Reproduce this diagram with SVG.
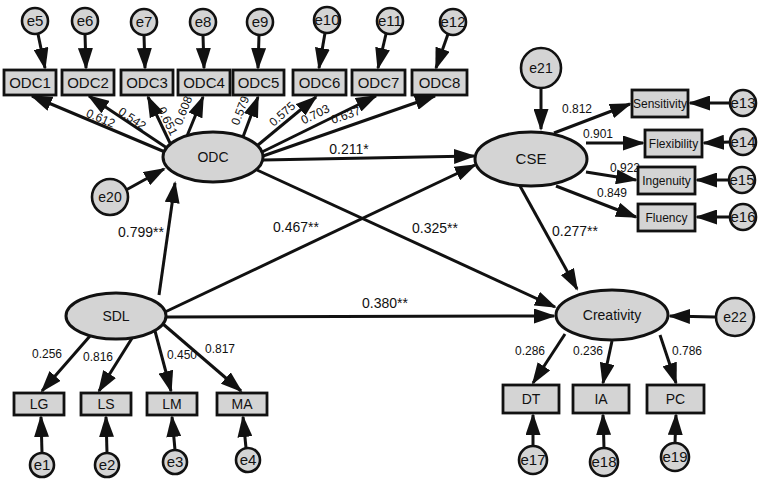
<svg xmlns="http://www.w3.org/2000/svg" width="767" height="486" viewBox="0 0 767 486">
<defs>
<style>
.bg{fill:#ffffff}
.lat{fill:#d4d4d4;stroke:#111;stroke-width:3}
.obs{fill:#d4d4d4;stroke:#111;stroke-width:2.8}
.err{fill:#d4d4d4;stroke:#111;stroke-width:2.6}
.c line{stroke:#111;stroke-width:3;marker-end:url(#ah)}
text{font-family:"Liberation Sans",Arial,sans-serif;fill:#111}
.t14{font-size:14px;text-anchor:middle}
.t15{font-size:15px;text-anchor:middle}
.t12{font-size:12px;text-anchor:middle}
.lab{font-size:12px;text-anchor:middle}
.pc{font-size:14px;text-anchor:middle}
</style>
<marker id="ah" markerWidth="22" markerHeight="15" refX="20" refY="7.5" orient="auto" markerUnits="userSpaceOnUse"><path d="M0,0 L22,7.5 L0,15 z" fill="#111"/></marker>
</defs>
<rect class="bg" x="0" y="0" width="767" height="486"/>

<g id="connectors" class="c">
<!-- ODC loadings -->
<line x1="165" y1="152" x2="32" y2="96"/>
<line x1="167" y1="148" x2="89" y2="96"/>
<line x1="170" y1="143" x2="148" y2="97"/>
<line x1="187" y1="136" x2="203" y2="97"/>
<line x1="243" y1="137" x2="258" y2="97"/>
<line x1="258" y1="145" x2="316" y2="97"/>
<line x1="262" y1="152" x2="376" y2="96"/>
<line x1="263" y1="156" x2="435" y2="96"/>
<!-- ODC errors -->
<line x1="38" y1="34" x2="45" y2="68"/>
<line x1="85" y1="34" x2="86" y2="68"/>
<line x1="144" y1="35" x2="145" y2="68"/>
<line x1="203" y1="35" x2="204" y2="68"/>
<line x1="259" y1="35" x2="258" y2="68"/>
<line x1="325" y1="33" x2="319" y2="68"/>
<line x1="386" y1="34" x2="378" y2="68"/>
<line x1="448" y1="34" x2="436" y2="68"/>
<!-- structural paths -->
<line x1="263" y1="160" x2="474" y2="156"/>
<line x1="165" y1="312" x2="475" y2="165"/>
<line x1="257" y1="170" x2="555" y2="307"/>
<line x1="166" y1="317" x2="554" y2="316"/>
<line x1="159" y1="295" x2="175" y2="183"/>
<line x1="126" y1="190" x2="164" y2="169"/>
<line x1="541" y1="88" x2="541" y2="129"/>
<line x1="520" y1="186" x2="577" y2="289"/>
<line x1="715" y1="317" x2="670" y2="316"/>
<!-- CSE indicators -->
<line x1="554" y1="133" x2="630" y2="104"/>
<line x1="586" y1="143" x2="643" y2="143"/>
<line x1="586" y1="172" x2="636" y2="180"/>
<line x1="556" y1="186" x2="636" y2="217"/>
<line x1="730" y1="103" x2="690" y2="103"/>
<line x1="730" y1="142" x2="704" y2="143"/>
<line x1="729" y1="180" x2="697" y2="180"/>
<line x1="730" y1="217" x2="697" y2="217"/>
<!-- Creativity indicators -->
<line x1="565" y1="334" x2="533" y2="383"/>
<line x1="612" y1="341" x2="603" y2="383"/>
<line x1="660" y1="335" x2="676" y2="383"/>
<line x1="533" y1="446" x2="533" y2="415"/>
<line x1="604" y1="448" x2="603" y2="415"/>
<line x1="675" y1="443" x2="676" y2="415"/>
<!-- SDL indicators -->
<line x1="90" y1="336" x2="42" y2="391"/>
<line x1="134" y1="335" x2="99" y2="391"/>
<line x1="155" y1="331" x2="171" y2="391"/>
<line x1="163" y1="324" x2="241" y2="391"/>
<line x1="42" y1="453" x2="41" y2="417"/>
<line x1="107" y1="453" x2="106" y2="417"/>
<line x1="175" y1="450" x2="172" y2="417"/>
<line x1="246" y1="448" x2="243" y2="417"/>
</g>

<g id="labels">
<text class="lab" transform="translate(99,122) rotate(23)">0.612</text>
<text class="lab" transform="translate(130,122) rotate(34)">0.542</text>
<text class="lab" transform="translate(164,123) rotate(64)">0.651</text>
<text class="lab" transform="translate(187,112) rotate(-68)">0.608</text>
<text class="lab" transform="translate(244,112) rotate(-69)">0.579</text>
<text class="lab" transform="translate(285,117) rotate(-42)">0.575</text>
<text class="lab" transform="translate(317,118) rotate(-26)">0.703</text>
<text class="lab" transform="translate(347,119) rotate(-19)">0.637</text>
<text class="pc" x="349" y="154">0.211*</text>
<text class="pc" x="296" y="232">0.467**</text>
<text class="pc" x="435" y="233">0.325**</text>
<text class="pc" x="385" y="308">0.380**</text>
<text class="pc" x="141" y="237">0.799**</text>
<text class="pc" x="575" y="236">0.277**</text>
<text class="lab" x="577" y="113">0.812</text>
<text class="lab" x="598" y="138">0.901</text>
<text class="lab" x="625" y="172">0.922</text>
<text class="lab" x="612" y="197">0.849</text>
<text class="lab" x="530" y="355">0.286</text>
<text class="lab" x="588" y="355">0.236</text>
<text class="lab" x="687" y="355">0.786</text>
<text class="lab" x="47" y="358">0.256</text>
<text class="lab" x="98" y="361">0.816</text>
<text class="lab" x="182" y="359">0.450</text>
<text class="lab" x="220" y="353">0.817</text>
</g>

<g id="ODC"><ellipse class="lat" cx="213" cy="157" rx="50" ry="25"/><text class="t14" x="213" y="162">ODC</text></g>
<g id="CSE"><ellipse class="lat" cx="531" cy="159" rx="56" ry="27"/><text class="t15" x="531" y="164">CSE</text></g>
<g id="Creativity"><ellipse class="lat" cx="612" cy="315" rx="56" ry="25"/><text class="t14" x="612" y="320">Creativity</text></g>
<g id="SDL"><ellipse class="lat" cx="116" cy="316" rx="50" ry="23"/><text class="t14" x="116" y="321">SDL</text></g>

<g id="ODC1"><rect class="obs" x="4" y="70" width="52" height="25"/><text class="t15" x="30" y="88">ODC1</text></g>
<g id="ODC2"><rect class="obs" x="62" y="70" width="52" height="25"/><text class="t15" x="88" y="88">ODC2</text></g>
<g id="ODC3"><rect class="obs" x="121" y="70" width="52" height="25"/><text class="t15" x="147" y="88">ODC3</text></g>
<g id="ODC4"><rect class="obs" x="178" y="70" width="52" height="25"/><text class="t15" x="204" y="88">ODC4</text></g>
<g id="ODC5"><rect class="obs" x="233" y="70" width="51" height="25"/><text class="t15" x="258.5" y="88">ODC5</text></g>
<g id="ODC6"><rect class="obs" x="293" y="70" width="53" height="25"/><text class="t15" x="319.5" y="88">ODC6</text></g>
<g id="ODC7"><rect class="obs" x="352" y="70" width="53" height="25"/><text class="t15" x="378.5" y="88">ODC7</text></g>
<g id="ODC8"><rect class="obs" x="412" y="70" width="55" height="25"/><text class="t15" x="439.5" y="88">ODC8</text></g>

<g id="e5"><circle class="err" cx="35" cy="21" r="13"/><text class="t15" x="35" y="26">e5</text></g>
<g id="e6"><circle class="err" cx="85" cy="21" r="13"/><text class="t15" x="85" y="26">e6</text></g>
<g id="e7"><circle class="err" cx="144" cy="22" r="13"/><text class="t15" x="144" y="27">e7</text></g>
<g id="e8"><circle class="err" cx="203" cy="22" r="13"/><text class="t15" x="203" y="27">e8</text></g>
<g id="e9"><circle class="err" cx="260" cy="22" r="13"/><text class="t15" x="260" y="27">e9</text></g>
<g id="e10"><circle class="err" cx="327" cy="20" r="13"/><text class="t15" x="327" y="25">e10</text></g>
<g id="e11"><circle class="err" cx="390" cy="21" r="13"/><text class="t15" x="390" y="26">e11</text></g>
<g id="e12"><circle class="err" cx="453" cy="22" r="13"/><text class="t15" x="453" y="27">e12</text></g>

<g id="e20"><circle class="err" cx="110" cy="197" r="18"/><text class="t14" x="110" y="202">e20</text></g>
<g id="e21"><circle class="err" cx="541" cy="68" r="20"/><text class="t14" x="541" y="73">e21</text></g>
<g id="e22"><circle class="err" cx="735" cy="317" r="19"/><text class="t14" x="735" y="322">e22</text></g>

<g id="Sensitivity"><rect class="obs" x="632" y="90" width="56" height="27"/><text class="t12" x="660" y="108">Sensitivity</text></g>
<g id="Flexibility"><rect class="obs" x="645" y="130" width="57" height="27"/><text class="t12" x="673.5" y="148">Flexibility</text></g>
<g id="Ingenuity"><rect class="obs" x="638" y="167" width="57" height="27"/><text class="t12" x="666.5" y="185">Ingenuity</text></g>
<g id="Fluency"><rect class="obs" x="638" y="204" width="57" height="27"/><text class="t12" x="666.5" y="222">Fluency</text></g>

<g id="e13"><circle class="err" cx="743" cy="103" r="13"/><text class="t15" x="743" y="108">e13</text></g>
<g id="e14"><circle class="err" cx="743" cy="142" r="13"/><text class="t15" x="743" y="147">e14</text></g>
<g id="e15"><circle class="err" cx="742" cy="180" r="13"/><text class="t15" x="742" y="185">e15</text></g>
<g id="e16"><circle class="err" cx="743" cy="217" r="13"/><text class="t15" x="743" y="222">e16</text></g>

<g id="DT"><rect class="obs" x="503" y="385" width="56" height="28"/><text class="t14" x="531" y="404">DT</text></g>
<g id="IA"><rect class="obs" x="573" y="385" width="56" height="28"/><text class="t14" x="601" y="404">IA</text></g>
<g id="PC"><rect class="obs" x="647" y="385" width="57" height="28"/><text class="t14" x="675.5" y="404">PC</text></g>

<g id="e17"><circle class="err" cx="533" cy="460" r="14"/><text class="t15" x="533" y="465">e17</text></g>
<g id="e18"><circle class="err" cx="604" cy="462" r="14"/><text class="t15" x="604" y="467">e18</text></g>
<g id="e19"><circle class="err" cx="675" cy="457" r="14"/><text class="t15" x="675" y="462">e19</text></g>

<g id="LG"><rect class="obs" x="14" y="393" width="50" height="22"/><text class="t14" x="39" y="409">LG</text></g>
<g id="LS"><rect class="obs" x="81" y="393" width="50" height="22"/><text class="t14" x="106" y="409">LS</text></g>
<g id="LM"><rect class="obs" x="147" y="393" width="50" height="22"/><text class="t14" x="172" y="409">LM</text></g>
<g id="MA"><rect class="obs" x="217" y="393" width="50" height="22"/><text class="t14" x="242" y="409">MA</text></g>

<g id="e1"><circle class="err" cx="42" cy="465" r="12"/><text class="t15" x="42" y="470">e1</text></g>
<g id="e2"><circle class="err" cx="107" cy="465" r="12"/><text class="t15" x="107" y="470">e2</text></g>
<g id="e3"><circle class="err" cx="175" cy="462" r="12"/><text class="t15" x="175" y="467">e3</text></g>
<g id="e4"><circle class="err" cx="248" cy="460" r="12"/><text class="t15" x="248" y="465">e4</text></g>
</svg>
